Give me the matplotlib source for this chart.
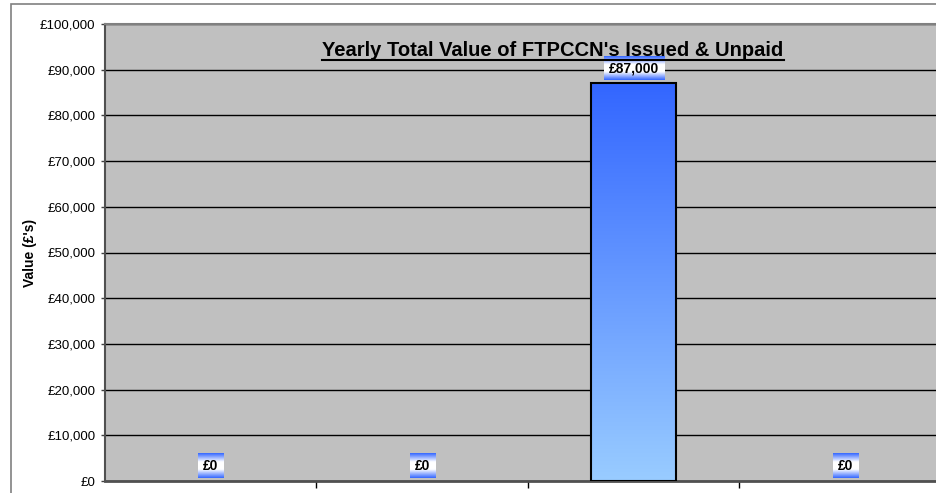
import numpy as np
import matplotlib.pyplot as plt
from matplotlib.colors import LinearSegmentedColormap
from matplotlib.patches import Rectangle
from matplotlib.lines import Line2D

plt.rcParams["font.family"] = ["Liberation Sans", "DejaVu Sans"]

# data
categories = ["2004/05", "2005/06", "2006/07", "2007/08"]
values = [0, 0, 87000, 0]
y_ticks = list(range(0, 100001, 10000))
title = "Yearly Total Value of FTPCCN's Issued & Unpaid"

W, H = 937, 493
fig = plt.figure(figsize=(W / 100, H / 100), dpi=100)

# plot area runs off the right edge of the picture, like the original
ax = fig.add_axes([105 / W, 1 - 481 / H, (951 - 105) / W, (481 - 24) / H])
ax.set_facecolor("#C0C0C0")

x = np.arange(len(categories))
bar_w = 0.4

# gradient fill for the bars (dark blue top -> light blue bottom)
bar_cmap = LinearSegmentedColormap.from_list("bar", ["#99CCFF", "#3366FF"])
grad = np.linspace(0, 1, 256).reshape(-1, 1)
for xi, v in zip(x, values):
    if v > 0:
        ax.imshow(grad, cmap=bar_cmap, origin="lower", aspect="auto",
                  extent=[xi - bar_w / 2, xi + bar_w / 2, 0, v], zorder=2.5)
edges = ["black" if v > 0 else "none" for v in values]
ax.bar(x, values, width=bar_w, color="none", edgecolor=edges, linewidth=1.5, zorder=3)

ax.set_xlim(-0.5, 3.5)
ax.set_ylim(0, 100000)
ax.set_yticks(y_ticks)
ax.set_yticklabels([f"£{v:,}" for v in y_ticks], fontsize=9.5)
ax.yaxis.grid(True, color="black", linewidth=1)
ax.set_axisbelow(True)
ax.set_xticks(np.arange(0.5, len(categories) - 0.5, 1))
ax.set_xticklabels([])
ax.tick_params(axis="x", direction="out", length=5, width=1, color="black")
ax.tick_params(axis="y", direction="out", length=3, width=1, color="#404040", pad=4)

ax.spines["left"].set_color("#505050")
ax.spines["left"].set_linewidth(1.5)
ax.spines["bottom"].set_color("#505050")
ax.spines["bottom"].set_linewidth(2)
ax.spines["top"].set_color("#808080")
ax.spines["top"].set_linewidth(1.5)
ax.spines["right"].set_visible(False)

# value labels
labels = []
for xi, v in zip(x, values):
    t = ax.text(xi, v + 3300, f"£{v:,}", ha="center", va="center",
                fontsize=10, fontweight="bold", zorder=6)
    labels.append(t)

# title and y label
tt = fig.text(553 / W, 1 - 56 / H, title, ha="center", va="baseline",
              fontsize=14.5, fontweight="bold")
fig.text(30 / W, 1 - 253 / H, "Value (£'s)", rotation=90, ha="center", va="center",
         fontsize=10, fontweight="bold")

# outer chart border
fig.add_artist(Rectangle((11 / W, -0.2), 1.5, 1.2 - 4 / H, transform=fig.transFigure,
                         fill=False, edgecolor="#808080", linewidth=1.2))

fig.canvas.draw()
renderer = fig.canvas.get_renderer()

# underline the title
bb = tt.get_window_extent(renderer)
y_ul = H - 59.5
fig.add_artist(Line2D([bb.x0 / W, bb.x1 / W], [y_ul / H, y_ul / H],
                      transform=fig.transFigure, color="black", linewidth=1.5))

# gradient boxes behind the value labels (blue edges, white middle)
box_cmap = LinearSegmentedColormap.from_list(
    "box", [(0, "#3366FF"), (0.35, "#FFFFFF"), (0.65, "#FFFFFF"), (1, "#3366FF")])
inv = ax.transData.inverted()
for t in labels:
    b = t.get_window_extent(renderer)
    (x0, y0) = inv.transform((b.x0 - 5, b.y0 - 5))
    (x1, y1) = inv.transform((b.x1 + 5, b.y1 + 5))
    ax.imshow(grad, cmap=box_cmap, origin="lower", aspect="auto",
              extent=[x0, x1, y0, y1], zorder=5)

ax.set_xlim(-0.5, 3.5)
ax.set_ylim(0, 100000)

fig.savefig("out.png", dpi=100)
